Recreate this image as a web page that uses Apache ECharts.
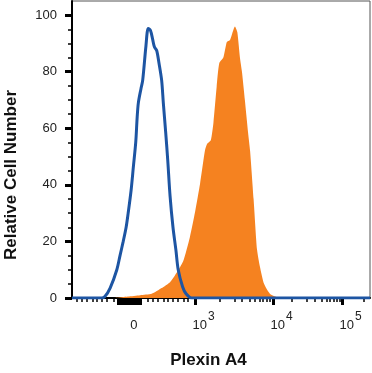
<!DOCTYPE html>
<html><head><meta charset="utf-8">
<script src="https://cdn.jsdelivr.net/npm/echarts@6/dist/echarts.min.js"></script>
<style>html,body{margin:0;padding:0;background:#fff}#c{width:372px;height:373px}</style>
</head><body><div id="c"></div>
<script>
// x values are display channels (0-1024, biexponential display scale); y = relative cell number
const isotypeX = [0,102,113,131,154,165,176,186,193,203,211,219,224,228,237,243,254,262,270,277,283,291,299,308,314,322,329,337,347,357,365,380,392,411,1024];
const isotypeY = [0,0,0.5,3.5,10,15,20,25,30,38,46.5,55,64,69,74,77,89,95.3,94.5,91.5,88.8,87.5,83,77,68.7,58.5,48.7,36,25,17,10,4,1.5,0,0];
const stainedX = [0,148,192,234,274,308,337,354,382,405,423,440,457,465,477,486,497,506,520,532,543,560,568,577,584,594,605,612,624,636,646,660,680,704,722,1024];
const stainedY = [0,0,0.5,1,1.5,3.5,5.6,8,13,21.5,30.5,40.4,52.2,54.6,55.8,62,74.6,83,85,90.5,91.2,96,94,85,80,70,58.5,52,35,17,11,5,1.5,0.3,0,0];
// axis ticks / labels
const yMajorTicks = [0,20,40,60,80,100];
const yMinorTicks = [5,10,15,25,30,35,45,50,55,65,70,75,85,90,95];
const xLabelValues = [213,423,691,928];
const xLabelTexts = ['0','10^3','10^4','10^5'];
const xMajorTicks = [158,165,172,179,186,193,200,207,214,221,228,234,423,691,928];
const xMinorTicks = [16,33,51,70,85,102,119,142,261,278,295,316,330,347,364,385,399,509,560,583,612,629,646,657,669,680,755,806,835,858,875,887,898,910,921,1001];

const pair = (xs, ys) => xs.map((x, i) => [x, ys[i]]);
const FONT = 'Liberation Sans';
const chart = echarts.init(document.getElementById('c'), null, {renderer: 'canvas'});
chart.setOption({
  animation: false,
  backgroundColor: '#fff',
  grid: {left: 72, right: 2, top: 1, bottom: 75, show: true, borderColor: '#555', borderWidth: 1,
         containLabel: false, outerBoundsMode: 'none'},
  xAxis: [{
    type: 'value', min: 0, max: 1024, position: 'bottom',
    name: 'Plexin A4', nameLocation: 'middle', nameGap: 54,
    nameTextStyle: {fontFamily: FONT, fontWeight: 'bold', fontSize: 17, color: '#111', padding: [0, 25, 0, 0]},
    axisLine: {show: true, onZero: false, lineStyle: {color: '#000', width: 2}},
    axisTick: {show: true, customValues: xMajorTicks, length: 7, lineStyle: {color: '#000', width: 3}},
    splitLine: {show: false},
    axisLabel: {
      customValues: xLabelValues, margin: 10, color: '#222', fontFamily: FONT, fontSize: 13,
      formatter: function (v) {
        let best = 0;
        xLabelValues.forEach((lv, i) => { if (Math.abs(lv - v) < Math.abs(xLabelValues[best] - v)) best = i; });
        const t = xLabelTexts[best];
        if (t.indexOf('^') < 0) return '{z|' + t + '}';
        const p = t.split('^');
        return '{b|' + p[0] + '}{s|' + p[1] + '}';
      },
      rich: {
        z: {fontFamily: FONT, fontSize: 13, color: '#222', lineHeight: 24, verticalAlign: 'bottom'},
        b: {fontFamily: FONT, fontSize: 13, color: '#222', lineHeight: 24, verticalAlign: 'bottom', padding: [0, 0, 0, 17]},
        s: {fontFamily: FONT, fontSize: 12, color: '#222', lineHeight: 24, verticalAlign: 'bottom', padding: [0, 0, 9, 1]}
      }
    }
  }, {
    type: 'value', min: 0, max: 1024, position: 'bottom', gridIndex: 0,
    axisLine: {show: false},
    axisTick: {show: true, customValues: xMinorTicks, length: 4, lineStyle: {color: '#000', width: 1.5}},
    axisLabel: {show: false}, splitLine: {show: false}
  }],
  yAxis: [{
    type: 'value', min: 0, max: 105, position: 'left',
    name: 'Relative Cell Number', nameLocation: 'middle', nameGap: 52,
    nameTextStyle: {fontFamily: FONT, fontWeight: 'bold', fontSize: 17, color: '#111', padding: [0, 51, 0, 0]},
    axisLine: {show: true, onZero: false, lineStyle: {color: '#000', width: 2}},
    axisTick: {show: true, customValues: yMajorTicks, length: 7, lineStyle: {color: '#000', width: 3}},
    axisLabel: {customValues: yMajorTicks, margin: 15, color: '#222', fontFamily: FONT, fontSize: 13},
    splitLine: {show: false}
  }, {
    type: 'value', min: 0, max: 105, position: 'left',
    axisLine: {show: false},
    axisTick: {show: true, customValues: yMinorTicks, length: 4, lineStyle: {color: '#000', width: 1.5}},
    axisLabel: {show: false}, splitLine: {show: false}
  }],
  series: [{
    name: 'Plexin A4', type: 'line', xAxisIndex: 0, yAxisIndex: 0,
    data: pair(stainedX, stainedY), showSymbol: false, smooth: 0.2,
    lineStyle: {width: 0, color: '#F58220'}, areaStyle: {color: '#F58220', opacity: 1}, z: 2
  }, {
    name: 'Isotype', type: 'line', xAxisIndex: 0, yAxisIndex: 0,
    data: pair(isotypeX, isotypeY), showSymbol: false, smooth: 0.3,
    lineStyle: {width: 3, color: '#1D55A3'}, z: 3
  }]
});
</script></body></html>
